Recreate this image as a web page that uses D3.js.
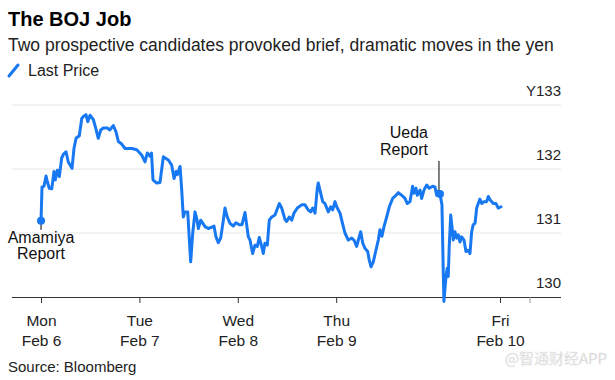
<!DOCTYPE html>
<html>
<head>
<meta charset="utf-8">
<script src="https://cdn.jsdelivr.net/npm/d3@7/dist/d3.min.js"></script>
<style>
  html, body { margin: 0; padding: 0; background: #fff; }
  svg { display: block; font-family: "Liberation Sans", Arial, sans-serif; }
</style>
</head>
<body>
<svg id="chart" width="615" height="380"></svg>
<script>
// ---- Data (x in days since Mon Feb 6 00:00, y = USD/JPY) ----
const days = [0,0.010,0.030,0.051,0.064,0.084,0.109,0.132,0.145,0.166,0.186,0.210,0.227,0.254,0.277,0.315,0.335,0.356,0.389,0.414,0.430,0.457,0.475,0.498,0.532,0.556,0.582,0.607,0.633,0.674,0.700,0.735,0.762,0.786,0.820,0.854,0.887,0.922,0.973,1.023,1.057,1.080,1.108,1.123,1.138,1.176,1.209,1.243,1.294,1.328,1.352,1.372,1.385,1.413,1.430,1.446,1.463,1.491,1.521,1.542,1.565,1.582,1.599,1.623,1.667,1.700,1.735,1.758,1.778,1.802,1.826,1.853,1.870,1.893,1.921,1.954,1.982,2.015,2.043,2.073,2.107,2.124,2.151,2.175,2.198,2.218,2.243,2.259,2.276,2.300,2.320,2.345,2.378,2.422,2.446,2.480,2.497,2.523,2.548,2.571,2.605,2.649,2.683,2.716,2.741,2.761,2.785,2.808,2.818,2.843,2.863,2.886,2.920,2.944,2.964,2.988,3.005,3.039,3.056,3.089,3.123,3.158,3.181,3.208,3.225,3.249,3.270,3.293,3.320,3.336,3.354,3.377,3.404,3.428,3.445,3.465,3.486,3.513,3.540,3.574,3.608,3.631,3.666,3.699,3.723,3.750,3.777,3.791,3.811,3.824,3.852,3.869,3.892,3.920,3.946,3.981,4.004,4.021,4.038,4.055,4.075,4.088,4.095,4.116,4.129,4.139,4.149,4.164,4.177,4.190,4.207,4.225,4.241,4.258,4.275,4.299,4.319,4.342,4.360,4.377,4.393,4.411,4.428,4.444,4.461,4.479,4.502,4.529,4.546,4.563,4.597,4.624,4.647,4.675];
const prices = [131.19,131.72,131.73,131.89,131.80,131.70,131.69,131.96,131.83,131.98,131.88,132.17,132.23,132.27,132.11,132.01,132.32,132.48,132.52,132.79,132.82,132.85,132.74,132.84,132.77,132.64,132.48,132.61,132.64,132.64,132.61,132.68,132.58,132.43,132.39,132.32,132.32,132.32,132.30,132.22,132.11,132.25,132.20,132.25,131.83,131.78,131.79,132.19,132.14,132.06,131.85,131.96,131.91,132.04,131.67,131.25,131.33,131.33,130.55,131.00,131.33,131.23,131.07,131.20,131.10,131.07,131.09,131.11,130.94,130.85,130.92,131.20,131.39,131.25,131.15,131.11,131.16,131.13,131.13,131.32,130.94,130.89,130.68,130.81,130.79,130.93,130.79,130.68,130.84,130.81,131.20,131.25,131.28,131.46,131.39,131.21,131.18,131.25,131.20,131.31,131.39,131.44,131.44,131.36,131.33,131.39,131.31,131.70,131.78,131.62,131.49,131.46,131.33,131.41,131.36,131.49,131.41,131.31,131.20,131.00,130.89,130.92,130.89,130.79,130.89,131.02,130.84,130.76,130.71,130.58,130.47,130.55,130.73,130.89,131.05,130.95,131.10,131.25,131.41,131.54,131.59,131.63,131.59,131.54,131.46,131.49,131.73,131.62,131.70,131.59,131.67,131.54,131.67,131.75,131.70,131.73,131.72,131.59,131.65,131.61,131.44,130.42,129.93,130.32,130.45,130.32,130.79,131.28,131.10,130.89,131.02,130.92,130.97,130.86,130.94,130.89,130.71,130.73,130.68,131.02,131.13,131.15,131.39,131.46,131.53,131.46,131.49,131.49,131.57,131.52,131.46,131.46,131.39,131.41];

const tickDays = [0, 1, 2, 3, 4.665];
const tickDow = ["Mon", "Tue", "Wed", "Thu", "Fri"];
const tickDate = ["Feb 6", "Feb 7", "Feb 8", "Feb 9", "Feb 10"];
const minorTickDays = [4.965];
const yTicks = [130, 131, 132, 133];
const yTickLabels = ["130", "131", "132", "Y133"];
const annotations = [
  { day: 0, lines: ["Amamiya", "Report"], pos: "below" },
  { day: 4.055, lines: ["Ueda", "Report"], pos: "above" }
];

const title = "The BOJ Job";
const subtitle = "Two prospective candidates provoked brief, dramatic moves in the yen";
const legendLabel = "Last Price";
const source = "Source: Bloomberg";
const watermark = "@智通财经APP";

// ---- Layout ----
const BLUE = "#1778f2";
const svg = d3.select("#chart");
const x = d3.scaleLinear().domain([-0.295, 5.285]).range([12, 561]);
const y = d3.scaleLinear().domain([130, 133]).range([297, 105]);

// Header
svg.append("text").attr("x", 8).attr("y", 26).attr("font-size", 20).attr("font-weight", "bold")
  .attr("fill", "#000").text(title);
svg.append("text").attr("x", 8).attr("y", 51).attr("font-size", 17.5).attr("fill", "#222").text(subtitle);
svg.append("line").attr("x1", 9).attr("y1", 76).attr("x2", 18).attr("y2", 65)
  .attr("stroke", BLUE).attr("stroke-width", 3).attr("stroke-linecap", "round");
svg.append("text").attr("x", 28).attr("y", 76).attr("font-size", 16).attr("fill", "#222").text(legendLabel);

// Gridlines
svg.append("g").selectAll("line").data(yTicks.filter(v => v !== 130)).join("line")
  .attr("x1", 12).attr("x2", 561).attr("y1", d => y(d)).attr("y2", d => y(d))
  .attr("stroke", "#e6e6e6").attr("stroke-width", 1);

// Y labels
svg.append("g").selectAll("text").data(yTicks).join("text")
  .attr("x", 561).attr("y", d => y(d) - 9).attr("text-anchor", "end")
  .attr("font-size", 15).attr("fill", "#222")
  .text((d, i) => yTickLabels[i]);

// X axis
const xAxis = d3.axisBottom(x).tickValues(tickDays).tickSize(6).tickFormat("");
const gx = svg.append("g").attr("transform", `translate(0,${y(130)})`).call(xAxis);
gx.select(".domain").attr("stroke", "#333").attr("d", `M${x.range()[0]},0.5H${x.range()[1]}`);
gx.selectAll(".tick line").attr("stroke", "#333");
gx.selectAll(".tick").append("text").attr("fill", "#222").attr("font-size", 15.5)
  .attr("text-anchor", "middle").attr("y", 29).text((d, i) => tickDow[i]);
gx.selectAll(".tick").append("text").attr("fill", "#222").attr("font-size", 15.5)
  .attr("text-anchor", "middle").attr("y", 49).text((d, i) => tickDate[i]);
svg.append("g").attr("transform", `translate(0,${y(130)})`).selectAll("line").data(minorTickDays).join("line")
  .attr("x1", d => x(d) + 0.5).attr("x2", d => x(d) + 0.5).attr("y1", 0).attr("y2", 6)
  .attr("stroke", "#999");

// Line
const data = days.map((d, i) => ({ d, p: prices[i] }));
const line = d3.line().x(e => x(e.d)).y(e => y(e.p));
svg.append("path").datum(data).attr("d", line).attr("fill", "none")
  .attr("stroke", BLUE).attr("stroke-width", 3).attr("stroke-linejoin", "round").attr("stroke-linecap", "round");

// Annotations
annotations.forEach(a => {
  const idx = d3.minIndex(days, v => Math.abs(v - a.day));
  const px = x(days[idx]), py = y(prices[idx]);
  if (a.pos === "below") {
    svg.append("line").attr("x1", px).attr("x2", px).attr("y1", py).attr("y2", py + 9)
      .attr("stroke", "#000").attr("stroke-width", 1);
    a.lines.forEach((t, k) => svg.append("text").attr("x", px).attr("y", py + 22 + k * 16)
      .attr("text-anchor", "middle").attr("font-size", 16).attr("fill", "#111").text(t));
  } else {
    svg.append("line").attr("x1", px - 1).attr("x2", px - 1).attr("y1", py).attr("y2", py - 33)
      .attr("stroke", "#000").attr("stroke-width", 1);
    a.lines.forEach((t, k) => svg.append("text").attr("x", px - 12).attr("y", py - 56 + k * 17)
      .attr("text-anchor", "end").attr("font-size", 16).attr("fill", "#111").text(t));
  }
  svg.append("circle").attr("cx", px).attr("cy", py).attr("r", 4).attr("fill", BLUE);
});

// Footer
svg.append("text").attr("x", 8).attr("y", 372).attr("font-size", 15).attr("fill", "#222").text(source);
svg.append("text").attr("x", 607).attr("y", 364).attr("text-anchor", "end")
  .attr("font-family", "'Noto Sans CJK SC', sans-serif").attr("font-size", 15)
  .attr("fill", "#d0d0d0").attr("stroke", "#eeeeee").attr("stroke-width", 0.5).text(watermark);
</script>
</body>
</html>
